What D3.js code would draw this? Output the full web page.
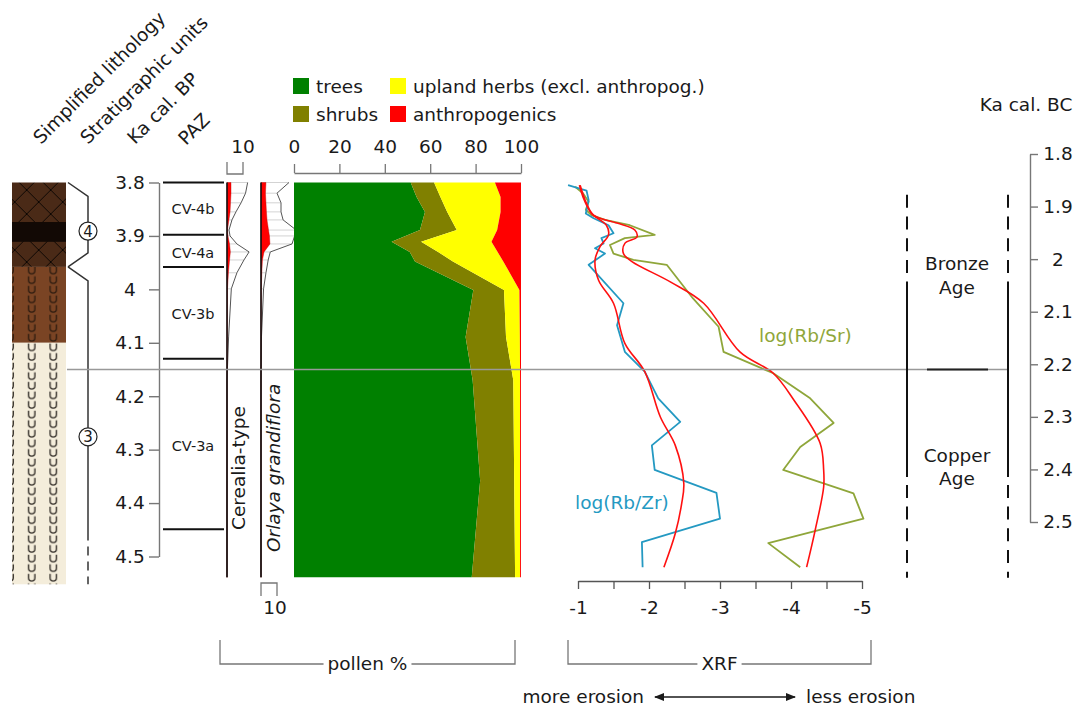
<!DOCTYPE html>
<html>
<head>
<meta charset="utf-8">
<script src="https://cdn.jsdelivr.net/npm/d3@7"></script>
<style>
body { margin: 0; background: #fff; }
svg { font-family: "DejaVu Sans", sans-serif; }
</style>
</head>
<body>
<div id="chart"></div>
<script>
// Values (ka cal. BP for depths / ages)

// Age axes
const bpTicks = [3.8, 3.9, 4.0, 4.1, 4.2, 4.3, 4.4, 4.5]
const bpTickLabels = ["3.8", "3.9", "4", "4.1", "4.2", "4.3", "4.4", "4.5"]
const bcTicks = [1.8, 1.9, 2.0, 2.1, 2.2, 2.3, 2.4, 2.5]
const bcTickLabels = ["1.8", "1.9", "2", "2.1", "2.2", "2.3", "2.4", "2.5"]
const pollenTicks = [0, 20, 40, 60, 80, 100]
const xrfTicks = [-1, -1.5, -2, -2.5, -3, -3.5, -4, -4.5, -5]

// Lithology
const lithoKind = ["hatched", "brown", "cream"]
const lithoTop = [3.8, 3.958, 4.1]
const lithoBase = [3.958, 4.1, 4.552]
const darkBand = [3.874, 3.911]

// Stratigraphic units
const unitNames = ["4", "3"]
const unitTop = [3.8, 3.958]
const unitBase = [3.958, 4.552]
const unitLabelAt = [3.891, 4.276]
const unitSolidEnd = 4.47

// Pollen assemblage zones
const pazBounds = [3.8, 3.898, 3.958, 4.13, 4.449]
const pazNames = ["CV-4b", "CV-4a", "CV-3b", "CV-3a"]
const pazLabelAt = [3.85, 3.931, 4.046, 4.293]

// Pollen groups (%)
const pollenDepth = [3.800, 3.827, 3.855, 3.889, 3.911, 3.930, 3.948, 4.001, 4.089, 4.170, 4.358, 4.539]
const trees =          [51.4, 54.0, 57.7, 55.5, 43.0, 51.0, 53.3, 79.0, 75.6, 78.7, 82.0, 78.3]
const shrubs =         [10.3, 10.5,  9.8, 16.2, 13.0, 12.5, 16.7, 13.5, 17.8, 17.9, 15.0, 19.1]
const uplandHerbs =    [26.8, 26.5, 23.5, 17.8, 31.0, 26.2, 22.2,  6.8,  6.1,  3.0,  2.6,  2.2]
const anthropogenics = [11.5,  9.0,  9.0, 10.5, 13.0, 10.3,  7.8,  0.7,  0.5,  0.4,  0.4,  0.4]

// Single taxa (%), with their x5 exaggeration outlines
const taxaDepth =  [3.800, 3.820, 3.838, 3.855, 3.870, 3.889, 3.900, 3.915, 3.930, 3.945, 3.969, 3.999, 4.089, 4.170, 4.358, 4.539]
const cerealia =   [2.5, 2.5, 2.2, 1.9, 1.2, 0.3, 0.6, 1.6, 2.1, 1.6, 0.9, 0.3, 0.2, 0, 0, 0]
const cerealiaX5 = [12.9, 11.6, 8.8, 5.6, 3.1, 1.25, 1.9, 6.2, 13.8, 10.6, 6.2, 2.7, 1.0, 0, 0, 0]
const orlaya =     [3.1, 2.8, 3.1, 3.4, 3.75, 4.7, 5.3, 5.6, 1.9, 0.9, 0.5, 0.2, 0, 0, 0, 0]
const orlayaX5 =   [17.5, 10.0, 12.5, 12.5, 13.8, 22.0, 21.0, 19.4, 5.8, 4.5, 3.1, 1.6, 0.3, 0, 0, 0]

// XRF ratios
const rbZrDepth = [3.805, 3.815, 3.833, 3.858, 3.867, 3.880, 3.895, 3.904, 3.914, 3.923, 3.933, 3.954, 4.026, 4.067, 4.117, 4.154, 4.204, 4.248, 4.292, 4.338, 4.381, 4.429, 4.473, 4.520]
const rbZr =      [-0.86, -1.12, -1.15, -1.11, -1.22, -1.43, -1.50, -1.33, -1.36, -1.24, -1.38, -1.15, -1.64, -1.55, -1.66, -1.94, -2.13, -2.44, -2.04, -2.08, -2.95, -3.00, -1.90, -1.91]
const rbSrDepth = [3.808, 3.820, 3.836, 3.851, 3.861, 3.870, 3.880, 3.898, 3.904, 3.917, 3.933, 3.945, 3.954, 4.017, 4.070, 4.117, 4.157, 4.204, 4.250, 4.295, 4.338, 4.382, 4.429, 4.475, 4.520]
const rbSr =      [-0.96, -1.07, -1.15, -1.11, -1.19, -1.38, -1.73, -2.08, -1.66, -1.45, -1.50, -1.78, -2.25, -2.62, -2.98, -3.05, -3.75, -4.27, -4.60, -4.13, -3.89, -4.88, -5.02, -3.68, -4.13]
const rbZrTrendDepth = [3.805, 3.827, 3.858, 3.880, 3.898, 3.920, 3.945, 3.983, 4.026, 4.101, 4.154, 4.239, 4.292, 4.363, 4.401, 4.457, 4.520]
const rbZrTrend =      [-1.02, -1.07, -1.19, -1.40, -1.43, -1.31, -1.24, -1.29, -1.50, -1.66, -1.94, -2.16, -2.37, -2.49, -2.46, -2.37, -2.21]
const rbSrTrendDepth = [3.805, 3.839, 3.861, 3.876, 3.889, 3.902, 3.914, 3.933, 3.948, 3.986, 4.026, 4.117, 4.157, 4.207, 4.288, 4.338, 4.370, 4.451, 4.520]
const rbSrTrend =      [-1.03, -1.12, -1.22, -1.55, -1.80, -1.83, -1.66, -1.64, -1.76, -2.30, -2.77, -3.28, -3.75, -4.04, -4.41, -4.46, -4.46, -4.34, -4.22]

// Cultural periods / 4.2 ka event
const eventBP = 4.15
const periodNames = [["Bronze", "Age"], ["Copper", "Age"]]
const periodLabelAt = [3.964, 4.323]
const periodDashed = [3.823, 4.54]
const periodSolid = [3.986, 4.351]

// Legend
const legendNames = ["trees", "shrubs", "upland herbs (excl. anthropog.)", "anthropogenics"]

// ---------------------------------------------------------------
const W = 1076, H = 708
const ink = "#1a1a1a"
const grey = "#777"
const FS = 18.5
const pollenColors = { trees: "#008000", shrubs: "#808000", herbs: "#ffff00", anthro: "#ff0000" }
const lithoFill = { hatched: "#4a2a17", brown: "#7a4424", cream: "#f4eddb" }

const svg = d3.select("#chart").append("svg")
   .attr("width", W).attr("height", H)
   .style("display", "block")

const yBP = d3.scaleLinear().domain([3.8, 4.5]).range([182.5, 556.5])
const yBC = d3.scaleLinear().domain([1.8, 2.5]).range([154, 522])
const xPollen = d3.scaleLinear().domain([0, 100]).range([294, 521])
const xCer = d3.scaleLinear().domain([0, 10]).range([227, 243])
const xOrl = d3.scaleLinear().domain([0, 10]).range([261, 277])
const xXrf = d3.scaleLinear().domain([-1, -5]).range([578, 862])

// Patterns for the lithology column
const defs = svg.append("defs")
let hatch = defs.append("pattern").attr("id", "hatch")
   .attr("patternUnits", "userSpaceOnUse")
   .attr("x", -9.3).attr("y", 178).attr("width", 24).attr("height", 24)
hatch.append("rect").attr("width", 24).attr("height", 24).attr("fill", lithoFill.hatched)
hatch.append("path").attr("d", "M0,0L24,24M24,0L0,24M-2,22L2,26M22,-2L26,2")
   .attr("stroke", "#0d0703").attr("stroke-width", 1)

function uPattern(id, fill, stroke) {
   let p = defs.append("pattern").attr("id", id)
      .attr("patternUnits", "userSpaceOnUse")
      .attr("x", -0.7).attr("y", 266).attr("width", 21.6).attr("height", 9.6)
   p.append("rect").attr("width", 21.6).attr("height", 9.6).attr("fill", fill)
   p.append("path").attr("d", "M7.6,0.8V4.6A3.2,3.2 0 0 0 14,4.6V0.8")
      .attr("fill", "none").attr("stroke", stroke).attr("stroke-width", 1.3)
}
uPattern("uBrown", lithoFill.brown, "#2b1a0e")
uPattern("uCream", lithoFill.cream, "#2a2520")

defs.append("marker").attr("id", "arrow")
   .attr("viewBox", "0 0 10 10").attr("refX", 9).attr("refY", 5)
   .attr("markerWidth", 10).attr("markerHeight", 10)
   .attr("markerUnits", "userSpaceOnUse")
   .attr("orient", "auto-start-reverse")
   .append("path").attr("d", "M0,1L10,5L0,9Z").attr("fill", ink)

// Column headers
const headers = [["Simplified lithology", 41, 145], ["Stratigraphic units", 88, 145], ["Ka cal. BP", 135, 145], ["PAZ", 186, 146]]
svg.selectAll("text.header").data(headers).enter().append("text")
   .attr("class", "header")
   .attr("transform", d => `translate(${d[1]},${d[2]}) rotate(-45)`)
   .attr("font-size", FS).attr("fill", ink)
   .text(d => d[0])

// Lithology column
const lithoRows = lithoKind.map((k, i) => ({ kind: k, top: lithoTop[i], base: lithoBase[i] }))
const lithoPat = { hatched: "url(#hatch)", brown: "url(#uBrown)", cream: "url(#uCream)" }
svg.selectAll("rect.litho").data(lithoRows).enter().append("rect")
   .attr("class", "litho")
   .attr("x", 12).attr("width", 54)
   .attr("y", d => yBP(d.top))
   .attr("height", d => yBP(d.base) - yBP(d.top))
   .attr("fill", d => lithoPat[d.kind])
svg.append("rect")
   .attr("x", 12).attr("width", 54)
   .attr("y", yBP(darkBand[0])).attr("height", yBP(darkBand[1]) - yBP(darkBand[0]))
   .attr("fill", "#120905")

// Stratigraphic unit braces
const bx0 = 68, bx1 = 88
let brace = svg.append("g").attr("fill", "none").attr("stroke", "#333").attr("stroke-width", 1.5)
unitNames.forEach(function(n, i) {
   let t = yBP(unitTop[i])
   let b = yBP(Math.min(unitBase[i], unitSolidEnd))
   let d = `M${bx0},${t}L${bx1},${t + 14}`
   if (i == 0) {
      d += `L${bx1},${b - 14}L${bx0},${b}`
   } else {
      d += `L${bx1},${b}`
   }
   brace.append("path").attr("d", d)
})
brace.append("line")
   .attr("x1", bx1).attr("x2", bx1)
   .attr("y1", yBP(unitSolidEnd) + 6).attr("y2", yBP(unitBase[1]))
   .attr("stroke-dasharray", "9,6")
unitNames.forEach(function(n, i) {
   let cy = yBP(unitLabelAt[i])
   svg.append("circle").attr("cx", bx1).attr("cy", cy).attr("r", 9)
      .attr("fill", "#fff").attr("stroke", "#222").attr("stroke-width", 1.2)
   svg.append("text").attr("x", bx1).attr("y", cy).attr("dy", "0.36em")
      .attr("text-anchor", "middle").attr("font-size", 15).attr("fill", ink)
      .text(n)
})

// Ka cal. BP axis
let axL = svg.append("g").attr("transform", "translate(159,0)")
   .call(d3.axisLeft(yBP).tickValues(bpTicks).tickFormat((d, i) => bpTickLabels[i]).tickSize(10).tickSizeOuter(0))
axL.select(".domain").attr("stroke", grey).attr("stroke-width", 1.4)
axL.selectAll(".tick line").attr("stroke", grey).attr("stroke-width", 1.4)
axL.selectAll(".tick text").attr("x", -29).attr("text-anchor", "middle")
   .attr("font-size", FS).attr("font-family", "DejaVu Sans").attr("fill", ink)

// PAZ
svg.selectAll("line.paz").data(pazBounds).enter().append("line")
   .attr("class", "paz")
   .attr("x1", 163).attr("x2", 224)
   .attr("y1", d => yBP(d)).attr("y2", d => yBP(d))
   .attr("stroke", "#111").attr("stroke-width", 2)
svg.selectAll("text.paz").data(pazNames).enter().append("text")
   .attr("class", "paz")
   .attr("x", 193).attr("y", (d, i) => yBP(pazLabelAt[i]))
   .attr("dy", "0.36em").attr("text-anchor", "middle")
   .attr("font-size", 14.5).attr("fill", ink)
   .text(d => d)

// Single-taxon curves
function taxonColumn(xs, vals, exag) {
   let rows = taxaDepth.map((d, i) => ({ depth: d, v: vals[i], e: exag[i] }))
   let g = svg.append("g")
   g.selectAll("line").data(rows).enter().append("line")
      .attr("x1", xs(0)).attr("x2", d => xs(d.e))
      .attr("y1", d => yBP(d.depth)).attr("y2", d => yBP(d.depth))
      .attr("stroke", "#c8c8c8").attr("stroke-width", 0.8)
   g.append("path").datum(rows)
      .attr("d", d3.line().x(d => xs(d.e)).y(d => yBP(d.depth)))
      .attr("fill", "none").attr("stroke", "#555").attr("stroke-width", 1)
   g.append("path").datum(rows)
      .attr("d", d3.area().y(d => yBP(d.depth)).x0(xs(0)).x1(d => xs(d.v)))
      .attr("fill", "#ff0000").attr("stroke", "#b00").attr("stroke-width", 0.4)
   g.append("line")
      .attr("x1", xs(0)).attr("x2", xs(0))
      .attr("y1", yBP(taxaDepth[0])).attr("y2", yBP(taxaDepth[taxaDepth.length - 1]))
      .attr("stroke", "#111").attr("stroke-width", 1.6)
}
taxonColumn(xCer, cerealia, cerealiaX5)
taxonColumn(xOrl, orlaya, orlayaX5)

svg.append("path").attr("d", `M${xCer(0)},162V174H${xCer(10)}V162`)
   .attr("fill", "none").attr("stroke", grey).attr("stroke-width", 1.3)
svg.append("text").attr("x", xCer(10)).attr("y", 153).attr("text-anchor", "middle")
   .attr("font-size", FS).attr("fill", ink).text("10")
svg.append("path").attr("d", `M${xOrl(0)},596V583H${xOrl(10)}V596`)
   .attr("fill", "none").attr("stroke", grey).attr("stroke-width", 1.3)
svg.append("text").attr("x", xOrl(10) - 2).attr("y", 614).attr("text-anchor", "middle")
   .attr("font-size", FS).attr("fill", ink).text("10")

svg.append("text").attr("transform", "translate(245,530) rotate(-90)")
   .attr("font-size", FS).attr("fill", ink).text("Cerealia-type")
svg.append("text").attr("transform", "translate(280,552) rotate(-90)")
   .attr("font-size", FS).attr("font-style", "italic").attr("fill", ink).text("Orlaya grandiflora")

// Pollen stacked areas
const keys = ["trees", "shrubs", "herbs", "anthro"]
const pollenRows = pollenDepth.map((d, i) => ({
   depth: d, trees: trees[i], shrubs: shrubs[i], herbs: uplandHerbs[i], anthro: anthropogenics[i]
}))
const stacked = d3.stack().keys(keys)(pollenRows)
const pollenArea = d3.area()
   .y(d => yBP(d.data.depth))
   .x0(d => xPollen(d[0]))
   .x1(d => xPollen(d[1]))
svg.selectAll("path.pollen").data(stacked).enter().append("path")
   .attr("class", "pollen")
   .attr("d", pollenArea)
   .attr("fill", d => pollenColors[d.key])

let axP = svg.append("g").attr("transform", "translate(0,173)")
   .call(d3.axisTop(xPollen).tickValues(pollenTicks).tickFormat(d => String(d)).tickSize(9).tickSizeOuter(0))
axP.select(".domain").attr("stroke", grey).attr("stroke-width", 1.3)
axP.selectAll(".tick line").attr("stroke", grey).attr("stroke-width", 1.3)
axP.selectAll(".tick text").attr("y", -20)
   .attr("font-size", FS).attr("font-family", "DejaVu Sans").attr("fill", ink)

// Legend
const legendPos = [[293, 78], [293, 106], [390, 78], [390, 106]]
keys.forEach(function(k, i) {
   svg.append("rect").attr("x", legendPos[i][0]).attr("y", legendPos[i][1])
      .attr("width", 16).attr("height", 16).attr("fill", pollenColors[k])
   svg.append("text").attr("x", legendPos[i][0] + 23).attr("y", legendPos[i][1] + 14.5)
      .attr("font-size", FS).attr("fill", ink).text(legendNames[i])
})

// XRF curves
function xrfLine(depths, vals, color, width, curve) {
   let rows = depths.map((d, i) => ({ depth: d, v: vals[i] }))
   svg.append("path").datum(rows)
      .attr("d", d3.line().curve(curve).x(d => xXrf(d.v)).y(d => yBP(d.depth)))
      .attr("fill", "none").attr("stroke", color).attr("stroke-width", width)
      .attr("stroke-linejoin", "round")
}
const blue = "#2499c2", olive = "#8fa63a"
xrfLine(rbSrDepth, rbSr, olive, 1.8, d3.curveLinear)
xrfLine(rbZrDepth, rbZr, blue, 1.8, d3.curveLinear)
xrfLine(rbZrTrendDepth, rbZrTrend, "#ff1010", 1.6, d3.curveCatmullRom.alpha(0.5))
xrfLine(rbSrTrendDepth, rbSrTrend, "#ff1010", 1.6, d3.curveCatmullRom.alpha(0.5))

svg.append("text").attr("x", 759).attr("y", 342).attr("font-size", FS).attr("fill", olive).text("log(Rb/Sr)")
svg.append("text").attr("x", 575).attr("y", 509).attr("font-size", FS).attr("fill", blue).text("log(Rb/Zr)")

let axX = svg.append("g").attr("transform", "translate(0,581)")
   .call(d3.axisBottom(xXrf).tickValues(xrfTicks).tickFormat(d => Number.isInteger(d) ? String(d) : "").tickSize(8).tickSizeOuter(0))
axX.select(".domain").attr("stroke", "#555").attr("stroke-width", 1.3)
axX.selectAll(".tick line").attr("stroke", "#555").attr("stroke-width", 1.3)
axX.selectAll(".tick text").attr("y", 20)
   .attr("font-size", FS).attr("font-family", "DejaVu Sans").attr("fill", ink)

// 4.2 ka event line
svg.append("line")
   .attr("x1", 67).attr("x2", 1008)
   .attr("y1", yBP(eventBP)).attr("y2", yBP(eventBP))
   .attr("stroke", "#999").attr("stroke-width", 1.5)

// Cultural periods
;[907, 1008].forEach(function(x) {
   svg.append("line").attr("x1", x).attr("x2", x)
      .attr("y1", yBP(periodDashed[0])).attr("y2", yBP(periodSolid[0]))
      .attr("stroke", "#111").attr("stroke-width", 2).attr("stroke-dasharray", "13,8.7")
   svg.append("line").attr("x1", x).attr("x2", x)
      .attr("y1", yBP(periodSolid[0])).attr("y2", yBP(periodSolid[1]))
      .attr("stroke", "#111").attr("stroke-width", 2)
   svg.append("line").attr("x1", x).attr("x2", x)
      .attr("y1", yBP(periodSolid[1]) + 8).attr("y2", yBP(periodDashed[1]))
      .attr("stroke", "#111").attr("stroke-width", 2).attr("stroke-dasharray", "13,8.7")
})
svg.append("line").attr("x1", 927).attr("x2", 988)
   .attr("y1", yBP(eventBP)).attr("y2", yBP(eventBP))
   .attr("stroke", "#222").attr("stroke-width", 2)
periodNames.forEach(function(lines, i) {
   let t = svg.append("text").attr("text-anchor", "middle")
      .attr("font-size", FS).attr("fill", ink)
   lines.forEach(function(l, j) {
      t.append("tspan").attr("x", 957).attr("y", yBP(periodLabelAt[i]) + j * 23.5).text(l)
   })
})

// Ka cal. BC axis
svg.append("text").attr("x", 1026).attr("y", 111).attr("text-anchor", "middle")
   .attr("font-size", FS).attr("fill", ink).text("Ka cal. BC")
let axR = svg.append("g").attr("transform", "translate(1030,0)")
   .call(d3.axisRight(yBC).tickValues(bcTicks).tickFormat((d, i) => bcTickLabels[i]).tickSize(8).tickSizeOuter(0))
axR.select(".domain").attr("stroke", grey).attr("stroke-width", 1.4)
axR.selectAll(".tick line").attr("stroke", grey).attr("stroke-width", 1.4)
axR.selectAll(".tick text").attr("x", 28).attr("text-anchor", "middle")
   .attr("font-size", FS).attr("font-family", "DejaVu Sans").attr("fill", ink)

// Group brackets at the bottom
function bracket(x0, x1, label) {
   let yb = 664, yt = 640
   let t = svg.append("text").attr("x", (x0 + x1) / 2).attr("y", yb).attr("dy", "0.35em")
      .attr("text-anchor", "middle").attr("font-size", FS).attr("fill", ink).text(label)
   let w = t.node().getComputedTextLength()
   let mid = (x0 + x1) / 2
   svg.append("path")
      .attr("d", `M${x0},${yt}V${yb}H${mid - w / 2 - 4}M${mid + w / 2 + 4},${yb}H${x1}V${yt}`)
      .attr("fill", "none").attr("stroke", grey).attr("stroke-width", 1.3)
}
bracket(220, 515, "pollen %")
bracket(568, 871, "XRF")

svg.append("line").attr("x1", 655).attr("x2", 795).attr("y1", 697).attr("y2", 697)
   .attr("stroke", ink).attr("stroke-width", 1.3)
   .attr("marker-start", "url(#arrow)").attr("marker-end", "url(#arrow)")
svg.append("text").attr("x", 644).attr("y", 703).attr("text-anchor", "end")
   .attr("font-size", FS).attr("fill", ink).text("more erosion")
svg.append("text").attr("x", 806).attr("y", 703)
   .attr("font-size", FS).attr("fill", ink).text("less erosion")
</script>
</body>
</html>
